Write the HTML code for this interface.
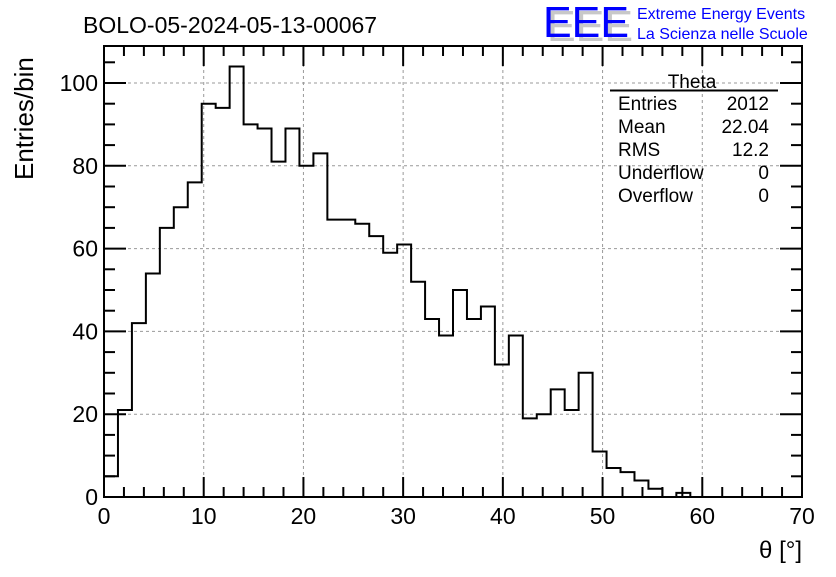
<!DOCTYPE html>
<html><head><meta charset="utf-8"><style>
body{margin:0;background:#fff;}
svg text{font-family:"Liberation Sans",sans-serif;}
</style></head><body>
<svg width="836" height="572" xmlns="http://www.w3.org/2000/svg">
<rect width="836" height="572" fill="#fff"/>
<g id="grid"></g>
<g id="hist"></g>
<g id="axes"></g>
<text x="83" y="33" font-size="23">BOLO-05-2024-05-13-00067</text>
<g>
<text x="547" y="41" font-size="44" fill="#c8c8c8" textLength="86" lengthAdjust="spacingAndGlyphs">EEE</text>
<text x="543" y="37" font-size="44" fill="#0000ff" textLength="86" lengthAdjust="spacingAndGlyphs">EEE</text>
<text x="637" y="19" font-size="16" fill="#0000ff">Extreme Energy Events</text>
<text x="637" y="39" font-size="16" fill="#0000ff">La Scienza nelle Scuole</text>
</g>
<g font-size="19">
<text x="692" y="88" text-anchor="middle">Theta</text>
<line x1="610" y1="90.5" x2="778" y2="90.5" stroke="#000" stroke-width="2"/>
<text x="618" y="110">Entries</text><text x="769" y="110" text-anchor="end">2012</text>
<text x="618" y="133">Mean</text><text x="769" y="133" text-anchor="end">22.04</text>
<text x="618" y="156">RMS</text><text x="769" y="156" text-anchor="end">12.2</text>
<text x="618" y="179">Underflow</text><text x="769" y="179" text-anchor="end">0</text>
<text x="618" y="202">Overflow</text><text x="769" y="202" text-anchor="end">0</text>
</g>
<text x="802" y="558" font-size="24" text-anchor="end">θ [°]</text>
<text transform="translate(33,180) rotate(-90)" font-size="26">Entries/bin</text>
<script>
const binLow = 0, binWidth = 1.4;
const counts = [5,21,42,54,65,70,76,95,94,104,90,89,81,89,80,83,67,67,66,63,59,61,52,43,39,50,43,46,32,39,19,20,26,21,30,11,7,6,4,2,0,1,0,0,0,0,0,0,0,0];
const xTicks = [0,10,20,30,40,50,60,70];
const yTicks = [0,20,40,60,80,100];
const L=104,R=802,T=46,B=497, xMax=70, yMax=(B-T)/4.14;
const X=v=>L+(v/xMax)*(R-L), Y=v=>B-(v/yMax)*(B-T);
const NS="http://www.w3.org/2000/svg";
function mk(t,a,p){const e=document.createElementNS(NS,t);for(const k in a)e.setAttribute(k,a[k]);p.appendChild(e);return e;}
const grid=document.getElementById('grid'),axes=document.getElementById('axes'),hist=document.getElementById('hist');
xTicks.forEach(v=>{if(v>0&&v<70){const l=mk('line',{x1:X(v),x2:X(v),y1:T,y2:B,stroke:'#999','stroke-dasharray':'3,3'},grid);

}});
yTicks.forEach(v=>{if(v>0){const l=mk('line',{x1:L,x2:R,y1:Y(v),y2:Y(v),stroke:'#999','stroke-dasharray':'3,3'},grid);

}});
let d=`M${X(binLow)},${B}`;
counts.forEach((c,i)=>{const x0=X(binLow+i*binWidth),x1=X(binLow+(i+1)*binWidth);d+=` L${x0},${Y(c)} L${x1},${Y(c)}`;});
d+=` L${X(binLow+counts.length*binWidth)},${B}`;
const p=mk('path',{d:d,fill:'none',stroke:'#000','stroke-width':2},hist);


const fr=mk('rect',{x:L,y:T,width:R-L,height:B-T,fill:'none',stroke:'#000','stroke-width':2},axes);


for(let v=0;v<=70;v+=2){const maj=v%10===0,len=maj?20:10;
mk('line',{x1:X(v),x2:X(v),y1:B,y2:B-len,stroke:'#000','stroke-width':2},axes);
mk('line',{x1:X(v),x2:X(v),y1:T,y2:T+len,stroke:'#000','stroke-width':2},axes);}
for(let v=0;v<=yMax;v+=5){const maj=v%20===0,len=maj?22:11;
mk('line',{x1:L,x2:L+len,y1:Y(v),y2:Y(v),stroke:'#000','stroke-width':2},axes);
mk('line',{x1:R,x2:R-len,y1:Y(v),y2:Y(v),stroke:'#000','stroke-width':2},axes);}
xTicks.forEach(v=>{const t=mk('text',{x:X(v),y:B+27,'font-size':23,'text-anchor':'middle'},axes);t.textContent=v;

});
yTicks.forEach(v=>{const t=mk('text',{x:L-6,y:Y(v)+8,'font-size':23,'text-anchor':'end'},axes);t.textContent=v;

});
</script>
</svg>
</body></html>
